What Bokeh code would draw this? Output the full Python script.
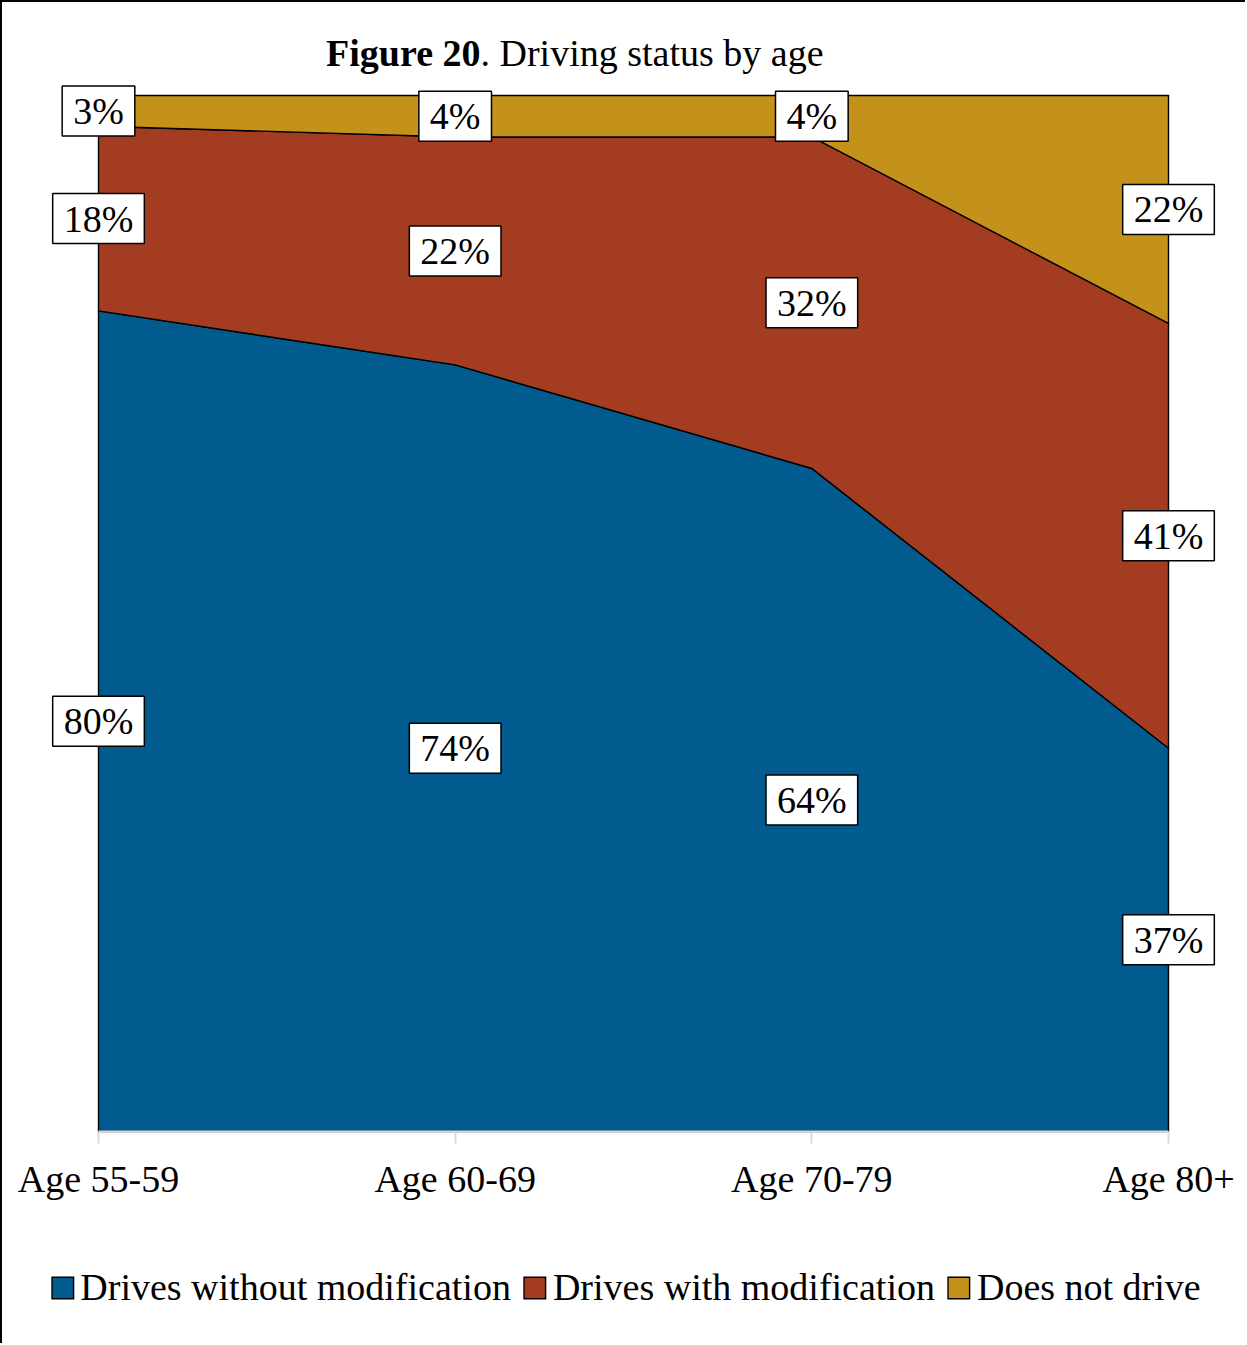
from bokeh.plotting import figure
from bokeh.models import Label, Legend, LegendItem, FixedTicker, Range1d
from bokeh.embed import file_html
from bokeh.resources import INLINE

# ---- data ----
categories = ["Age 55-59", "Age 60-69", "Age 70-79", "Age 80+"]
series_names = ["Drives without modification", "Drives with modification", "Does not drive"]
drives_without = [80, 74, 64, 37]
drives_with = [18, 22, 32, 41]
does_not_drive = [3, 4, 4, 22]
colors = ["#015B8E", "#A33C20", "#C4921A"]

FONT = "Liberation Serif"
FS = "38px"

series = [drives_without, drives_with, does_not_drive]
xs = list(range(len(categories)))
totals = [sum(v) for v in zip(*series)]

# ---- layout (pixels, in figure coordinates) ----
W, H = 1245, 1343
AREA_L, AREA_R = 96, 1166      # pixel x of first / last category
AREA_T, AREA_B = 93, 1129      # pixel y of 100% / 0%
px_per_x = (AREA_R - AREA_L) / (len(xs) - 1)
px_per_y = (AREA_B - AREA_T) / 100.0
x_range = Range1d(-AREA_L / px_per_x, (len(xs) - 1) + (W - AREA_R) / px_per_x)
y_range = Range1d(-(H - AREA_B) / px_per_y, 100 + AREA_T / px_per_y)

p = figure(width=W, height=H, output_backend="svg", toolbar_location=None,
           x_range=x_range, y_range=y_range, y_axis_location=None,
           min_border_left=0, min_border_right=0, min_border_top=0,
           min_border_bottom=0)
p.outline_line_color = None
p.xgrid.visible = False
p.ygrid.visible = False
p.background_fill_color = "white"
p.border_fill_color = "white"

bottom = [0.0] * len(xs)
items = []
for vals, col, name in zip(series, colors, series_names):
    share = [v / t * 100 for v, t in zip(vals, totals)]
    top = [b + s for b, s in zip(bottom, share)]
    r = p.patch(xs + xs[::-1], top + bottom[::-1], fill_color=col, line_color="black",
                line_width=1.4, line_join="miter")
    items.append(LegendItem(label=name, renderers=[r]))
    for xi, b, s, v in zip(xs, bottom, share, vals):
        p.add_layout(Label(x=xi, y=b + s / 2, text=f"{v}%", text_align="center",
                           text_baseline="middle", text_font=FONT, text_font_size=FS,
                           text_color="black", background_fill_color="white",
                           border_line_color="black", border_line_width=1.5,
                           padding=dict(left=11, right=11, top=4, bottom=4)))
    bottom = top

# title (bold part + normal part)
title_y = (AREA_B - 50) / px_per_y
title_split = (478 - AREA_L) / px_per_x
p.add_layout(Label(x=title_split, y=title_y, text="Figure 20", text_align="right",
                   text_baseline="alphabetic", text_font=FONT, text_font_size=FS,
                   text_font_style="bold", text_color="black"))
p.add_layout(Label(x=title_split, y=title_y, text=". Driving status by age", text_align="left",
                   text_baseline="alphabetic", text_font=FONT, text_font_size=FS,
                   text_color="black"))

# x axis, drawn at y = 0 of the stacked area
ax = p.xaxis[0]
ax.fixed_location = 0
ax.ticker = FixedTicker(ticks=xs)
ax.bounds = (xs[0], xs[-1])
ax.major_label_overrides = {i: c for i, c in enumerate(categories)}
ax.axis_line_color = "#d9d9d9"
ax.axis_line_width = 2
ax.major_tick_line_color = "#d9d9d9"
ax.major_tick_line_width = 2
ax.major_tick_out = 12
ax.major_tick_in = 0
ax.minor_tick_line_color = None
ax.major_label_text_font = FONT
ax.major_label_text_font_size = FS
ax.major_label_text_color = "black"
ax.major_label_standoff = 14

legend = Legend(items=items, orientation="horizontal", location="bottom_center",
                glyph_width=27, glyph_height=27, label_standoff=5, spacing=10,
                padding=0, margin=36, border_line_color=None,
                background_fill_alpha=0, label_text_font=FONT,
                label_text_font_size=FS, label_text_color="black")
p.add_layout(legend, "center")

p.styles = {"border-left": "2px solid black", "border-top": "2px solid black"}

open("out.html", "w").write(file_html(p, INLINE))
